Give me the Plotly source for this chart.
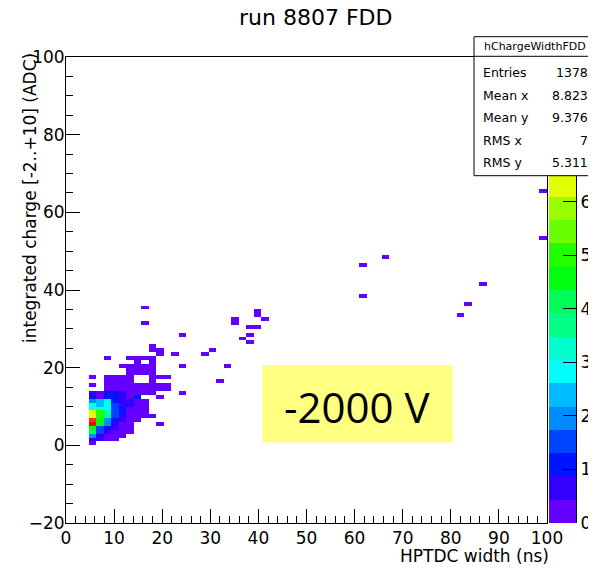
import colorsys
import numpy as np
import plotly.graph_objects as go

# ---------------- data ----------------
TITLE = "run 8807 FDD"
X_TITLE = "HPTDC width (ns)"
Y_TITLE = "integrated charge [-2..+10] (ADC)"
HIST_NAME = "hChargeWidthFDD"
STAT_LABELS = ["Entries", "Mean x", "Mean y", "RMS x", "RMS y"]
STAT_VALUES = ["1378", "8.823", "9.376", "7", "5.311"]
NOTE_TEXT = "-2000 V"

X_MIN, X_MAX, X_NBINS = 0, 100, 64
Y_MIN, Y_MAX, Y_NBINS = -20, 100, 120
Z_MAX = 87
N_CONTOURS = 20

X_TICKS = list(range(0, 101, 10))
Y_TICKS = list(range(-20, 101, 20))
Z_TICKS = list(range(0, 61, 10))

# dense core: rows = y bins starting at y=0 (1 ADC each), columns = x bins 3..13
CORE_XBIN0 = 3
CORE_Y0 = 0
CORE_COUNTS = [
    [3, 0, 0, 0, 0, 0, 0, 0, 0, 0, 0],    # y 0
    [8, 6, 3, 1, 0, 0, 0, 0, 0, 0, 0],    # y 1
    [18, 7, 4, 2, 1, 0, 0, 0, 0, 0, 0],   # y 2
    [40, 15, 8, 4, 2, 1, 0, 0, 0, 0, 0],  # y 3
    [44, 16, 9, 7, 3, 1, 0, 0, 0, 0, 0],  # y 4
    [87, 45, 19, 8, 4, 2, 0, 0, 0, 1, 0], # y 5
    [79, 46, 20, 10, 5, 2, 1, 0, 0, 0, 0],# y 6
    [62, 52, 36, 16, 6, 3, 2, 1, 1, 0, 0],# y 7
    [61, 50, 34, 16, 9, 3, 2, 1, 0, 0, 0],# y 8
    [28, 27, 30, 15, 10, 4, 3, 2, 0, 0, 0],# y 9
    [27, 25, 29, 14, 8, 6, 4, 1, 0, 0, 0],# y 10
    [18, 24, 30, 13, 7, 5, 4, 2, 0, 0, 0],# y 11
    [10, 4, 13, 12, 5, 4, 9, 0, 0, 1, 0], # y 12
    [7, 3, 12, 10, 5, 3, 2, 1, 1, 0, 0],  # y 13
    [0, 0, 3, 2, 3, 2, 2, 1, 1, 1, 1],    # y 14
    [1, 0, 2, 3, 2, 2, 1, 1, 2, 1, 1],    # y 15
    [0, 0, 2, 1, 2, 1, 0, 0, 1, 0, 0],    # y 16
    [1, 0, 1, 2, 1, 1, 0, 0, 1, 1, 1],    # y 17
    [0, 0, 0, 0, 0, 2, 1, 1, 1, 0, 0],    # y 18
    [0, 0, 0, 0, 0, 1, 2, 1, 1, 0, 0],    # y 19
    [0, 0, 0, 0, 1, 2, 1, 1, 1, 0, 0],    # y 20
    [0, 0, 0, 0, 0, 0, 1, 0, 1, 0, 0],    # y 21
    [0, 0, 1, 0, 0, 1, 1, 1, 1, 0, 0],    # y 22
]

# isolated bins: x bin index, y lower edge (ADC), count
SPARSE_XBIN = [10, 10, 25, 25, 26, 22, 22, 24, 25, 24, 23, 24, 15, 11, 11, 12, 12,
               14, 18, 19, 15, 21, 15, 20, 39, 42, 39, 55, 53, 52, 63, 63]
SPARSE_Y = [35, 31, 33, 34, 32, 31, 32, 30, 30, 28, 27, 26, 28, 24, 25, 23, 24,
            23, 23, 24, 20, 20, 13, 16, 46, 48, 38, 41, 36, 33, 65, 53]
SPARSE_COUNT = [1] * len(SPARSE_XBIN)

# ---------------- build histogram ----------------
x_edges = np.linspace(X_MIN, X_MAX, X_NBINS + 1)
y_edges = np.linspace(Y_MIN, Y_MAX, Y_NBINS + 1)
x_centers = 0.5 * (x_edges[:-1] + x_edges[1:])
y_centers = 0.5 * (y_edges[:-1] + y_edges[1:])
Z = np.full((Y_NBINS, X_NBINS), np.nan)
for r, row in enumerate(CORE_COUNTS):
    for c, n in enumerate(row):
        if n > 0:
            Z[CORE_Y0 + r - Y_MIN, CORE_XBIN0 + c] = n
for k, y, n in zip(SPARSE_XBIN, SPARSE_Y, SPARSE_COUNT):
    Z[y - Y_MIN, k] = n

# ROOT "pretty" palette with 20 contour levels
def root_color(i):
    idx = min(int((i + 0.99) * 50 / N_CONTOURS), 49)
    hue = 280 - (idx + 1) * 5.6
    r, g, b = colorsys.hls_to_rgb(max(hue, 0) / 360.0, 0.5, 1.0)
    return "rgb(%d,%d,%d)" % (round(r * 255), round(g * 255), round(b * 255))

colorscale = []
for i in range(N_CONTOURS):
    c = root_color(i)
    colorscale.append([i / N_CONTOURS, c])
    colorscale.append([(i + 1) / N_CONTOURS, c])

levels = np.linspace(0, Z_MAX, N_CONTOURS + 1)
level_mid = 0.5 * (levels[:-1] + levels[1:])

# ---------------- geometry (page pixels) ----------------
W, H = 596, 570
OFF = 8                       # page body margin of the html document
PLOT_L, PLOT_R, PLOT_T, PLOT_B = 66, 547, 57, 523
CB_L, CB_R = 549, 576
ML = PLOT_L - OFF
MT = PLOT_T - OFF
MR = W - (CB_R - OFF)
MB = H - (PLOT_B - OFF)
PW = CB_R - PLOT_L
PH = PLOT_B - PLOT_T

def px(x):
    return (x - PLOT_L) / PW

def py(y):
    return (PLOT_B - y) / PH

FONT = "DejaVu Sans"

fig = go.Figure()
fig.add_trace(go.Heatmap(
    x=x_centers, y=y_centers, z=Z, zmin=0, zmax=Z_MAX,
    colorscale=colorscale, showscale=False, hoverinfo="skip",
    xaxis="x", yaxis="y"))
fig.add_trace(go.Heatmap(
    x=[0.5], y=level_mid, z=[[v] for v in level_mid], zmin=0, zmax=Z_MAX,
    colorscale=colorscale, showscale=False, hoverinfo="skip",
    xaxis="x2", yaxis="y2"))

axis_font = dict(family=FONT, size=17, color="black")
fig.update_layout(
    width=W, height=H, template="none",
    margin=dict(l=ML, r=MR, t=MT, b=MB, pad=0),
    paper_bgcolor="white", plot_bgcolor="white",
    showlegend=False,
    xaxis=dict(domain=[0, px(PLOT_R)], range=[X_MIN, X_MAX],
               tickvals=X_TICKS, ticks="inside", ticklen=14, tickwidth=1,
               tickcolor="black", showline=True, linecolor="black", linewidth=1,
               mirror=True, showgrid=False, zeroline=False, tickfont=axis_font,
               ticklabelstandoff=0,
               minor=dict(dtick=2, ticks="inside", ticklen=7, tickcolor="black",
                          showgrid=False),
               automargin=False, anchor="y"),
    yaxis=dict(domain=[0, 1], range=[Y_MIN, Y_MAX], tickvals=Y_TICKS,
               ticks="inside", ticklen=14, tickwidth=1, tickcolor="black",
               showline=True, linecolor="black", linewidth=1, mirror=True,
               showgrid=False, zeroline=False, tickfont=axis_font,
               ticklabelstandoff=-3,
               minor=dict(dtick=5, ticks="inside", ticklen=7, tickcolor="black",
                          showgrid=False),
               automargin=False, anchor="x"),
    xaxis2=dict(domain=[px(CB_L), 1], range=[0, 1], visible=False,
                anchor="y2", fixedrange=True),
    yaxis2=dict(domain=[0, 1], range=[0, Z_MAX], anchor="x2", side="right",
                tickvals=Z_TICKS, ticks="inside", ticklen=13, tickcolor="black",
                showline=True, linecolor="black", linewidth=1, showgrid=False,
                zeroline=False, tickfont=axis_font, automargin=False),
)

shapes = []
# yellow note box
shapes.append(dict(type="rect", xref="x", yref="y", x0=40.8, x1=80.4, y0=0.8, y1=20.7,
                   fillcolor="#ffff80", line=dict(width=0), layer="above"))
# stats box
shapes.append(dict(type="rect", xref="paper", yref="paper", x0=px(474), x1=px(595.5),
                   y0=py(175.7), y1=py(36.7), fillcolor="white",
                   line=dict(color="black", width=1), layer="above"))
shapes.append(dict(type="line", xref="paper", yref="paper", x0=px(474), x1=px(595.5),
                   y0=py(56.3), y1=py(56.3), line=dict(color="black", width=1),
                   layer="above"))
fig.update_layout(shapes=shapes)

ann = []
ann.append(dict(text=TITLE, xref="paper", yref="paper", x=px(315), y=py(17),
                xanchor="center", yanchor="middle", showarrow=False,
                font=dict(family=FONT, size=22, color="black")))
ann.append(dict(text=X_TITLE, xref="paper", yref="paper", x=px(551), y=py(556),
                xanchor="right", yanchor="middle", showarrow=False,
                font=dict(family=FONT, size=17, color="black")))
ann.append(dict(text=Y_TITLE, xref="paper", yref="paper", x=px(30), y=py(51),
                xanchor="center", yanchor="top", textangle=-90, showarrow=False,
                font=dict(family=FONT, size=17, color="black")))
ann.append(dict(text=NOTE_TEXT, xref="x", yref="y", x=60.6, y=9.9,
                xanchor="center", yanchor="middle", showarrow=False,
                font=dict(family="Open Sans", size=42, color="black")))
ann.append(dict(text=HIST_NAME, xref="paper", yref="paper", x=px(534.7), y=py(46.5),
                xanchor="center", yanchor="middle", showarrow=False,
                font=dict(family=FONT, size=11, color="black")))
row_y = [72.7, 95, 117.5, 140, 162.3]
for lab, val, yy in zip(STAT_LABELS, STAT_VALUES, row_y):
    ann.append(dict(text=lab, xref="paper", yref="paper", x=px(481), y=py(yy),
                    xanchor="left", yanchor="middle", showarrow=False,
                    font=dict(family=FONT, size=12.5, color="black")))
    ann.append(dict(text=val, xref="paper", yref="paper", x=px(590), y=py(yy),
                    xanchor="right", yanchor="middle", showarrow=False,
                    font=dict(family=FONT, size=12.5, color="black")))
fig.update_layout(annotations=ann)

fig.write_html("out.html")
